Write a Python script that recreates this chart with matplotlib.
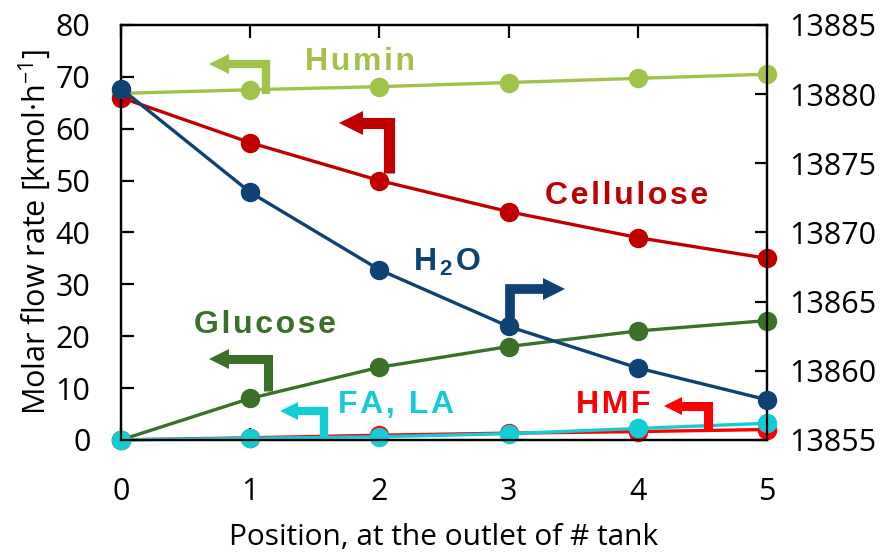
import matplotlib.pyplot as plt

plt.rcParams['font.family'] = ['Open Sans', 'Noto Sans', 'DejaVu Sans']
plt.rcParams['mathtext.fontset'] = 'custom'
plt.rcParams['mathtext.rm'] = 'Open Sans'
plt.rcParams['mathtext.it'] = 'Open Sans'
plt.rcParams['mathtext.bf'] = 'Liberation Sans:bold'

# data
position = [0, 1, 2, 3, 4, 5]
humin = [66.8, 67.5, 68.1, 68.9, 69.7, 70.5]
cellulose = [66.0, 57.3, 50.0, 44.0, 39.0, 35.0]
glucose = [0.0, 8.0, 14.0, 18.0, 21.0, 23.0]
hmf = [0.0, 0.4, 0.9, 1.3, 1.6, 2.0]
fa_la = [0.0, 0.3, 0.6, 1.2, 2.2, 3.2]
h2o = [13880.4, 13872.9, 13867.3, 13863.2, 13860.2, 13857.9]

left_ticks = [0, 10, 20, 30, 40, 50, 60, 70, 80]
right_ticks = [13855, 13860, 13865, 13870, 13875, 13880, 13885]

c_humin = '#A2C34B'
c_cell = '#C00000'
c_h2o = '#0E4174'
c_gluc = '#3A7028'
c_hmf = '#FF0000'
c_fa = '#12CDD6'

fig = plt.figure(figsize=(8.83, 5.54), dpi=100)
ax = fig.add_axes([0.137, 0.206, 0.7316, 0.749])
ax2 = ax.twinx()

lw = 2.4
ms = 13
for vals, col in [(humin, c_humin), (cellulose, c_cell), (glucose, c_gluc),
                  (hmf, c_hmf), (fa_la, c_fa)]:
    ax.plot(position, vals, '-o', color=col, lw=lw, ms=ms, clip_on=False, zorder=3)
ax2.plot(position, h2o, '-o', color=c_h2o, lw=lw, ms=ms, clip_on=False, zorder=3)

ax.set_xlim(0, 5)
ax.set_ylim(0, 80)
ax2.set_ylim(13855, 13885)
ax.set_yticks(left_ticks)
ax2.set_yticks(right_ticks)
ax.set_xticks(position)

for a in (ax, ax2):
    for s in a.spines.values():
        s.set_linewidth(1.6)
    a.tick_params(direction='in', length=9, width=1.6, labelsize=22)
ax.tick_params(axis='x', top=True, pad=27)
ax.tick_params(axis='y', pad=22)
ax2.tick_params(axis='y', pad=16)

ax.set_ylabel('Molar flow rate [kmol·h$^{-1}$]', fontsize=22, labelpad=2)
ax.set_xlabel('Position, at the outlet of # tank', fontsize=21.5, labelpad=11)


def bent_arrow(x_stem, y_bot, y_top, x_tip, col, w, head):
    # L-shaped arrow: stem up, then horizontal bar to an arrowhead
    ax.plot([x_stem, x_stem, x_tip], [y_bot, y_top, y_top], color=col, lw=w,
            solid_joinstyle='miter', solid_capstyle='butt', zorder=4)
    mk = '<' if x_tip < x_stem else '>'
    ax.plot([x_tip], [y_top], marker=mk, color=col, ms=head, mew=0, zorder=4)


bent_arrow(1.122, 66.7, 72.5, 0.76, c_humin, 6, 14)
bent_arrow(2.078, 51.5, 61.1, 1.78, c_cell, 8, 17)
bent_arrow(3.011, 23.5, 29.1, 3.35, c_h2o, 7, 16)
bent_arrow(1.138, 9.4, 15.6, 0.76, c_gluc, 6.5, 14)
bent_arrow(1.575, 0.4, 5.6, 1.30, c_fa, 6, 13)
bent_arrow(4.547, 1.9, 6.55, 4.27, c_hmf, 6.5, 13)


def spaced(s):
    return '\u200a'.join(s)


lab = dict(fontsize=23, fontweight='bold', ha='center', va='center', zorder=5,
           family=['Liberation Sans', 'DejaVu Sans'])
ax.text(1.85, 72.9, spaced('Humin'), color=c_humin, **lab)
ax.text(3.91, 47.0, spaced('Cellulose'), color=c_cell, **lab)
ax.text(2.52, 34.3, 'H\u200a$_{\\mathbf{2}}$\u200aO', color=c_h2o, **lab)
ax.text(1.115, 22.2, spaced('Glucose'), color=c_gluc, **lab)
ax.text(2.13, 6.75, spaced('FA, LA'), color=c_fa, **lab)
ax.text(3.81, 6.75, spaced('HMF'), color=c_hmf, **lab)

fig.savefig('out.png', dpi=100)
